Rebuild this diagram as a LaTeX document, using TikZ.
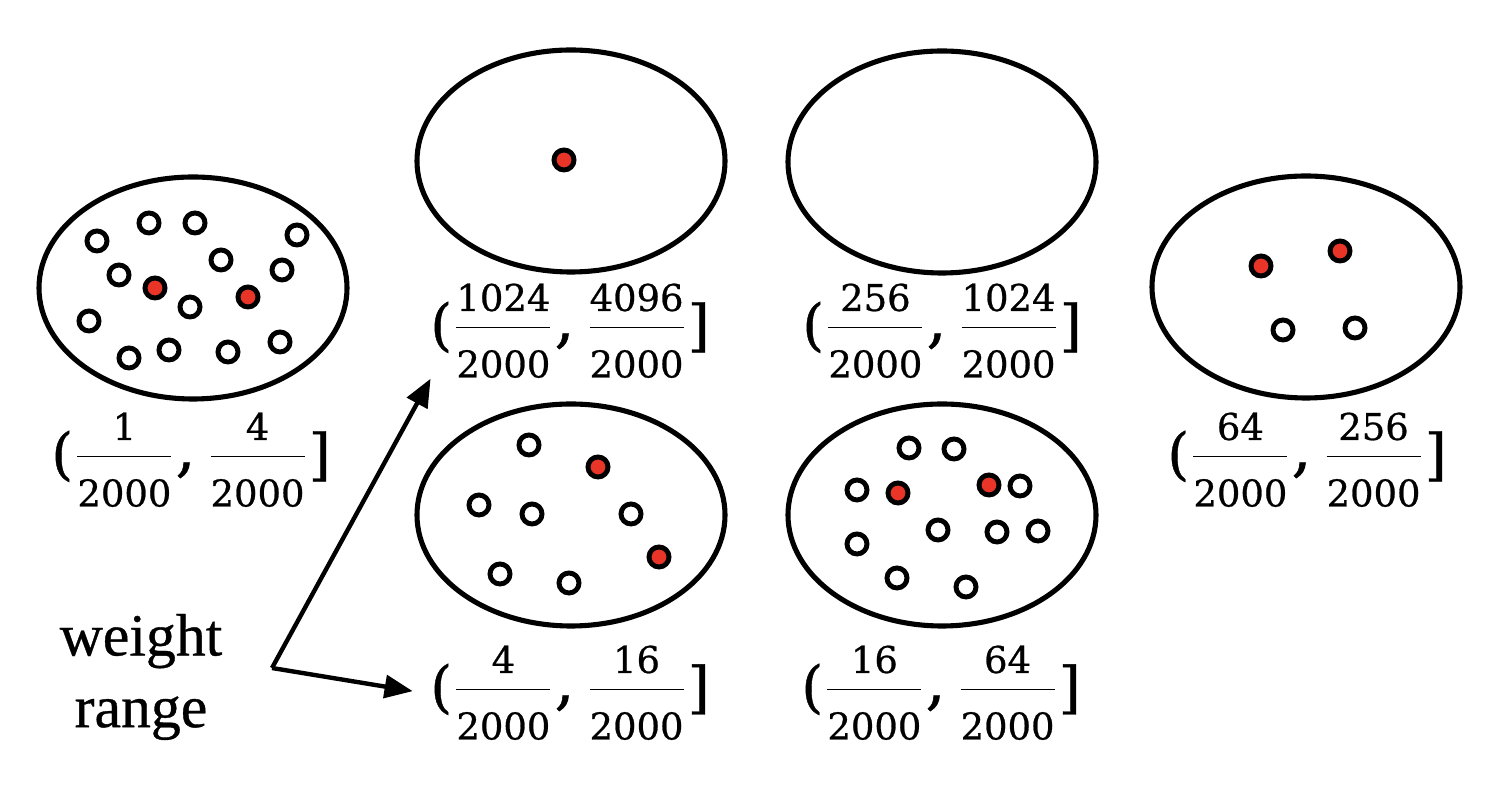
\documentclass[tikz,border=0pt]{standalone}
\usepackage{amsmath}
\usepackage{fontspec}
\setmainfont{Liberation Serif}[BoldFont={Liberation Serif}, BoldFeatures={FakeBold=0.6}]
\newfontfamily\numfont{DejaVu Serif}[BoldFont={DejaVu Serif}, BoldFeatures={FakeBold=0.7}]
\usetikzlibrary{shapes.geometric, arrows.meta, positioning}
\definecolor{dotred}{RGB}{232,53,40}
\newcommand{\delim}[1]{\vcenter{\hbox{\fontsize{16}{16}\selectfont #1}}}
\newcommand{\wrange}[2]{$\delim{(}\dfrac{\mbox{#1}}{\mbox{\raisebox{-4pt}{2000}}}\mbox{\raisebox{-1pt}{\fontsize{18}{18}\selectfont,}}\;\dfrac{\mbox{#2}}{\mbox{\raisebox{-4pt}{2000}}}\delim{]}$}

\begin{document}
\begin{tikzpicture}
\tikzstyle{bin} = [ellipse, draw, line width=1.45pt, minimum width=3.08cm, minimum height=2.22cm, inner sep=0pt]
\tikzstyle{item} = [circle, draw, fill=white, line width=1.4pt, minimum size=0.2cm, inner sep=0pt]
\tikzstyle{picked} = [item, fill=dotred]
\tikzstyle{wlabel} = [font=\numfont\bfseries\fontsize{10.5}{12}\selectfont, inner sep=2pt, anchor=base]
\tikzstyle{conn} = [line width=1.25pt, -{Triangle[length=8pt, width=6.5pt]}]
\useasboundingbox (0,0) rectangle (15.09,7.94);
% the six bins
\node[bin] (A) at (1.93, 5.06) {};
\node[bin] (B) at (5.71, 6.33) {};
\node[bin] (C) at (9.42, 6.32) {};
\node[bin] (D) at (13.06, 5.07) {};
\node[bin] (E) at (5.71, 2.79) {};
\node[bin] (F) at (9.42, 2.79) {};
% weights in each bin
\foreach \x/\y [count=\i] in {0.97/5.53, 1.49/5.71, 1.95/5.71, 2.97/5.59, 2.21/5.34, 2.82/5.24, 1.19/5.19, 1.90/4.87, 0.89/4.73, 1.29/4.36, 1.69/4.44, 2.28/4.42, 2.80/4.52} {
    \node[item] (a\i) at (\x, \y) {};
}
\node[picked] (ar1) at (1.55, 5.06) {};
\node[picked] (ar2) at (2.48, 4.97) {};
\node[picked] (br1) at (5.64, 6.34) {};
\foreach \x/\y [count=\i] in {5.29/3.49, 4.79/2.89, 5.32/2.80, 6.31/2.80, 5.00/2.20, 5.69/2.11} {
    \node[item] (e\i) at (\x, \y) {};
}
\node[picked] (er1) at (5.98, 3.27) {};
\node[picked] (er2) at (6.59, 2.37) {};
\foreach \x/\y [count=\i] in {9.09/3.46, 9.54/3.45, 8.57/3.04, 10.20/3.08, 9.38/2.64, 9.97/2.62, 10.38/2.63, 8.57/2.50, 8.97/2.16, 9.66/2.07} {
    \node[item] (f\i) at (\x, \y) {};
}
\node[picked] (fr1) at (8.98, 3.01) {};
\node[picked] (fr2) at (9.89, 3.09) {};
\node[picked] (dr1) at (12.61, 5.28) {};
\node[picked] (dr2) at (13.40, 5.43) {};
\node[item] (d1) at (12.83, 4.64) {};
\node[item] (d2) at (13.55, 4.66) {};
% ranges
\node[wlabel] (la) at (1.91, 3.28) {\wrange{1}{4}};
\node[wlabel] (lb) at (5.70, 4.57) {\wrange{1024}{4096}};
\node[wlabel] (lc) at (9.42, 4.57) {\wrange{256}{1024}};
\node[wlabel] (ld) at (13.07, 3.28) {\wrange{64}{256}};
\node[wlabel] (le) at (5.70, 0.95) {\wrange{4}{16}};
\node[wlabel] (lf) at (9.41, 0.95) {\wrange{16}{64}};
% legend
\node[align=center, font=\bfseries\fontsize{17}{20.4}\selectfont] (wr) at (1.41, 1.17) {weight\\range};
\coordinate (fork) at (2.72, 1.26);
\draw[conn] (fork) -- ([shift={(0.08,0.07)}]lb.south west);
\draw[conn, shorten >=1mm] (fork) -- (le.west);
\end{tikzpicture}
\end{document}
